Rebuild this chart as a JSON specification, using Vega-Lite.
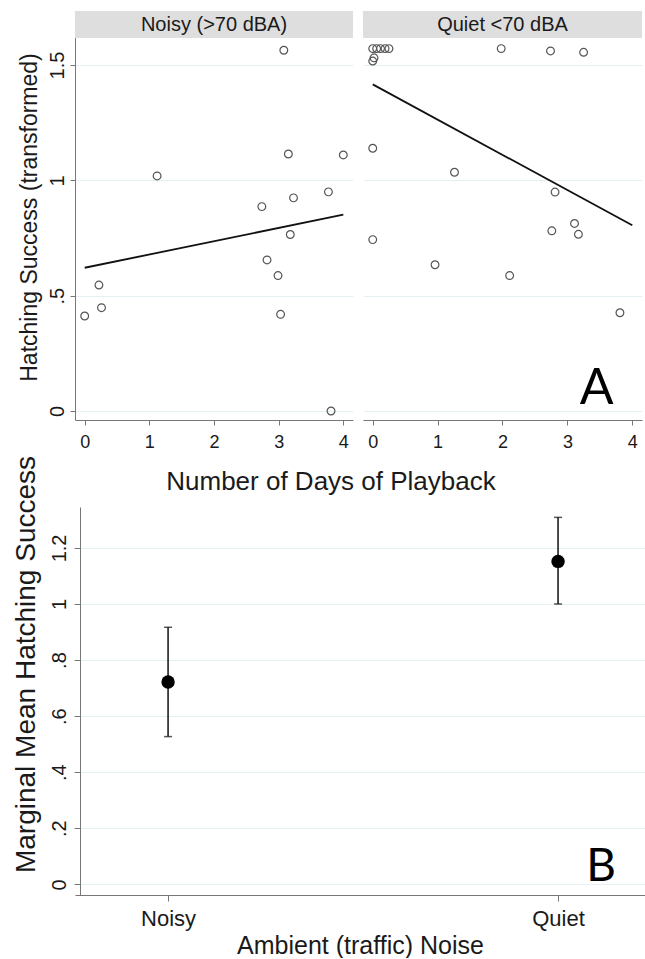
{
  "$schema": "https://vega.github.io/schema/vega-lite/v6.json",
  "padding": {"left": 11, "top": 11, "right": 0, "bottom": 0},
  "config": {
    "view": {"stroke": null},
    "font": "Liberation Sans",
    "axis": {"labelColor": "#1a1a1a", "titleColor": "#1a1a1a", "titleFontWeight": "normal", "domainColor": "#777777", "tickColor": "#777777", "gridColor": "#e6eff1", "labelFont": "Liberation Sans", "titleFont": "Liberation Sans", "zindex": 0},
    "title": {"fontWeight": "normal", "color": "#1a1a1a", "font": "Liberation Sans"}
  },
  "datasets": {
    "noisy": [
      {"days": 0.00, "hs": 0.412}, {"days": 0.22, "hs": 0.546}, {"days": 0.26, "hs": 0.448},
      {"days": 1.12, "hs": 1.019}, {"days": 2.74, "hs": 0.886}, {"days": 2.82, "hs": 0.655},
      {"days": 2.99, "hs": 0.587}, {"days": 3.03, "hs": 0.419}, {"days": 3.08, "hs": 1.564},
      {"days": 3.15, "hs": 1.114}, {"days": 3.18, "hs": 0.765}, {"days": 3.23, "hs": 0.924},
      {"days": 3.77, "hs": 0.950}, {"days": 3.81, "hs": 0.000}, {"days": 4.00, "hs": 1.110}
    ],
    "quiet": [
      {"days": 0.00, "hs": 1.571}, {"days": 0.06, "hs": 1.571}, {"days": 0.12, "hs": 1.571},
      {"days": 0.19, "hs": 1.571}, {"days": 0.25, "hs": 1.571}, {"days": 0.02, "hs": 1.531},
      {"days": 0.00, "hs": 1.517}, {"days": 1.98, "hs": 1.571}, {"days": 2.74, "hs": 1.561},
      {"days": 3.25, "hs": 1.555}, {"days": 0.00, "hs": 1.139}, {"days": 1.26, "hs": 1.035},
      {"days": 2.81, "hs": 0.949}, {"days": 0.00, "hs": 0.743}, {"days": 0.96, "hs": 0.634},
      {"days": 2.11, "hs": 0.587}, {"days": 2.76, "hs": 0.781}, {"days": 3.11, "hs": 0.813},
      {"days": 3.17, "hs": 0.766}, {"days": 3.81, "hs": 0.426}
    ],
    "fitNoisy": [{"days": 0, "fit": 0.621}, {"days": 4, "fit": 0.851}],
    "fitQuiet": [{"days": 0, "fit": 1.416}, {"days": 4, "fit": 0.805}],
    "margins": [
      {"noise": "Noisy", "mean": 0.722, "lo": 0.527, "hi": 0.917},
      {"noise": "Quiet", "mean": 1.152, "lo": 1.000, "hi": 1.309}
    ]
  },
  "spacing": 4,
  "vconcat": [
    {
      "hconcat": [
        {
          "width": 278,
          "height": 409,
          "layer": [
            {
              "data": {"values": [{"label": "Noisy (>70 dBA)"}]},
              "mark": {"type": "rect", "color": "#dedede"},
              "encoding": {"y": {"datum": 1.617, "type": "quantitative"}, "y2": {"datum": 1.734}}
            },
            {
              "data": {"values": [{"label": "Noisy (>70 dBA)"}]},
              "mark": {"type": "text", "fontSize": 20, "color": "#1a1a1a", "baseline": "middle", "align": "center"},
              "encoding": {"x": {"datum": 2.0, "type": "quantitative"}, "y": {"datum": 1.675, "type": "quantitative"}, "text": {"field": "label"}}
            },
            {
              "data": {"name": "noisy"},
              "mark": {"type": "point", "shape": "circle", "filled": false, "size": 60, "strokeWidth": 1.2, "color": "#555555", "opacity": 1},
              "encoding": {
                "x": {"field": "days", "type": "quantitative", "scale": {"domain": [-0.15, 4.15], "nice": false, "zero": false},
                  "axis": {"values": [0, 1, 2, 3, 4], "format": "d", "labelAngle": 0, "labelFontSize": 18, "labelPadding": 8, "tickSize": 5, "grid": false, "title": null}},
                "y": {"field": "hs", "type": "quantitative", "scale": {"domain": [-0.039, 1.734], "nice": false, "zero": false},
                  "axis": {"values": [0, 0.5, 1, 1.5], "labelExpr": "replace(toString(datum.value), '0.', '.')", "labelAngle": 270, "labelAlign": "center", "labelBaseline": "alphabetic", "labelPadding": 7, "labelFontSize": 20, "tickSize": 5, "grid": true,
                    "title": "Hatching Success (transformed)", "titleFontSize": 23, "titleAngle": 270, "titleX": -46, "titleY": 206, "titleBaseline": "middle", "titleAlign": "center"}}
              }
            },
            {
              "data": {"name": "fitNoisy"},
              "mark": {"type": "line", "color": "#111111", "strokeWidth": 1.8},
              "encoding": {"x": {"field": "days", "type": "quantitative"}, "y": {"field": "fit", "type": "quantitative"}}
            }
          ]
        },
        {
          "width": 279,
          "height": 409,
          "layer": [
            {
              "data": {"values": [{"label": "Quiet <70 dBA"}]},
              "mark": {"type": "rect", "color": "#dedede"},
              "encoding": {"y": {"datum": 1.617, "type": "quantitative"}, "y2": {"datum": 1.734}}
            },
            {
              "data": {"values": [{"label": "Quiet <70 dBA"}]},
              "mark": {"type": "text", "fontSize": 20, "color": "#1a1a1a", "baseline": "middle", "align": "center"},
              "encoding": {"x": {"datum": 2.0, "type": "quantitative"}, "y": {"datum": 1.675, "type": "quantitative"}, "text": {"field": "label"}}
            },
            {
              "data": {"name": "quiet"},
              "mark": {"type": "point", "shape": "circle", "filled": false, "size": 60, "strokeWidth": 1.2, "color": "#555555", "opacity": 1},
              "encoding": {
                "x": {"field": "days", "type": "quantitative", "scale": {"domain": [-0.15, 4.15], "nice": false, "zero": false},
                  "axis": {"values": [0, 1, 2, 3, 4], "format": "d", "labelAngle": 0, "labelFontSize": 18, "labelPadding": 8, "tickSize": 5, "grid": false, "title": null}},
                "y": {"field": "hs", "type": "quantitative", "scale": {"domain": [-0.039, 1.734], "nice": false, "zero": false},
                  "axis": {"values": [0, 0.5, 1, 1.5], "domain": false, "ticks": false, "labels": false, "grid": true, "title": null}}
              }
            },
            {
              "data": {"name": "fitQuiet"},
              "mark": {"type": "line", "color": "#111111", "strokeWidth": 1.8},
              "encoding": {"x": {"field": "days", "type": "quantitative"}, "y": {"field": "fit", "type": "quantitative"}}
            },
            {
              "data": {"values": [{"letter": "A"}]},
              "mark": {"type": "text", "font": "Lato", "fontSize": 50, "color": "#000000", "baseline": "alphabetic", "align": "center"},
              "encoding": {"x": {"datum": 3.45, "type": "quantitative"}, "y": {"datum": 0.03, "type": "quantitative"}, "text": {"field": "letter"}}
            }
          ]
        }
      ],
      "spacing": 10,
      "bounds": "flush"
    },
    {
      "width": 570,
      "height": 388,
      "title": {"text": "Number of Days of Playback", "orient": "top", "frame": "group", "anchor": "middle", "dx": -29, "fontSize": 26, "offset": -40},
      "data": {"name": "margins"},
      "layer": [
        {
          "mark": {"type": "rule", "color": "#111111", "strokeWidth": 1.5},
          "encoding": {
            "x": {"field": "noise", "type": "nominal", "scale": {"type": "point", "padding": 0.2308, "align": 0.517},
              "axis": {"labelAngle": 0, "labelFontSize": 22, "labelPadding": 7, "tickSize": 6, "grid": false, "title": "Ambient (traffic) Noise", "titleFontSize": 25, "titlePadding": 4}},
            "y": {"field": "lo", "type": "quantitative", "scale": {"domain": [-0.038, 1.346], "nice": false, "zero": false},
              "axis": {"values": [0, 0.2, 0.4, 0.6, 0.8, 1, 1.2], "labelExpr": "replace(toString(datum.value), '0.', '.')", "offset": -5, "labelAngle": 270, "labelAlign": "center", "labelBaseline": "alphabetic", "labelPadding": 9, "labelFontSize": 20, "tickSize": 6, "grid": true,
                "title": "Marginal Mean Hatching Success", "titleFontSize": 28, "titleAngle": 270, "titleX": -54, "titleY": 157, "titleBaseline": "middle", "titleAlign": "center"}},
            "y2": {"field": "hi"}
          }
        },
        {
          "mark": {"type": "tick", "color": "#111111", "size": 8, "thickness": 1.5},
          "encoding": {"x": {"field": "noise", "type": "nominal"}, "y": {"field": "lo", "type": "quantitative"}}
        },
        {
          "mark": {"type": "tick", "color": "#111111", "size": 8, "thickness": 1.5},
          "encoding": {"x": {"field": "noise", "type": "nominal"}, "y": {"field": "hi", "type": "quantitative"}}
        },
        {
          "mark": {"type": "circle", "color": "#000000", "size": 180, "opacity": 1},
          "encoding": {"x": {"field": "noise", "type": "nominal"}, "y": {"field": "mean", "type": "quantitative"}}
        },
        {
          "data": {"values": [{"letter": "B"}]},
          "mark": {"type": "text", "font": "Lato", "fontSize": 46, "color": "#000000", "baseline": "alphabetic", "align": "center", "dx": 43},
          "encoding": {"x": {"datum": "Quiet", "type": "nominal"}, "y": {"datum": 0.013, "type": "quantitative"}, "text": {"field": "letter"}}
        }
      ]
    }
  ]
}
